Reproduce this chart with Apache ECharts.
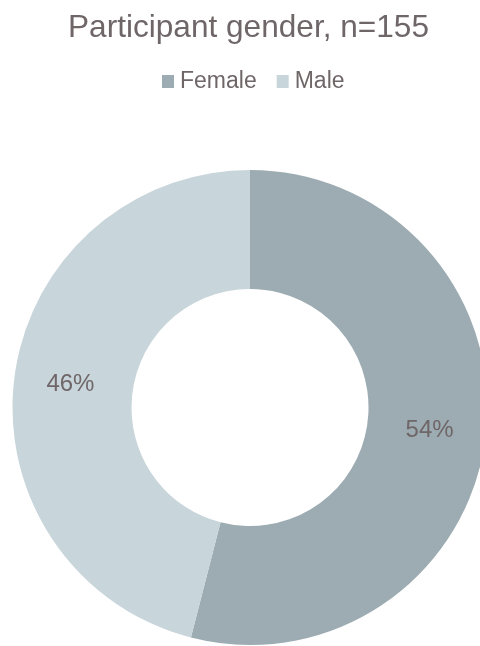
<!DOCTYPE html>
<html>
<head>
<meta charset="utf-8">
<style>
  html, body { margin: 0; padding: 0; background: #ffffff; }
  #chart { width: 480px; height: 646px; }
</style>
<script src="https://cdn.jsdelivr.net/npm/echarts@6/dist/echarts.min.js"></script>
</head>
<body>
<div id="chart"></div>
<script>
// Gender split of participants (percent of n=155)
const titleText = 'Participant gender, n=155';
const categories = ['Female', 'Male'];
const shares = [54, 46];
const sliceColors = ['#9dacb2', '#c8d5da'];

const textColor = '#6f6668';
const fontFamily = '"Liberation Sans", Arial, sans-serif';

const chart = echarts.init(document.getElementById('chart'), null, { renderer: 'canvas' });

chart.setOption({
  animation: false,
  backgroundColor: '#ffffff',
  title: {
    text: titleText,
    left: 63,
    top: 7,
    textStyle: {
      color: textColor,
      fontFamily: fontFamily,
      fontSize: 31.6,
      fontWeight: 'normal'
    }
  },
  legend: {
    data: categories,
    left: 157,
    top: 65,
    itemWidth: 12,
    itemHeight: 13,
    itemGap: 20,
    icon: 'rect',
    textStyle: {
      color: textColor,
      fontFamily: fontFamily,
      fontSize: 23,
      padding: [0, 0, 0, 1]
    }
  },
  series: [{
    type: 'pie',
    center: [250, 407.5],
    radius: [118.5, 237.5],
    startAngle: 90,
    clockwise: true,
    avoidLabelOverlap: false,
    emphasis: { disabled: true },
    itemStyle: { borderWidth: 0 },
    label: {
      show: true,
      position: 'inside',
      formatter: '{c}%',
      color: textColor,
      fontFamily: fontFamily,
      fontSize: 24
    },
    labelLine: { show: false },
    data: categories.map((name, i) => ({
      name: name,
      value: shares[i],
      itemStyle: { color: sliceColors[i] }
    }))
  }]
});
</script>
</body>
</html>
